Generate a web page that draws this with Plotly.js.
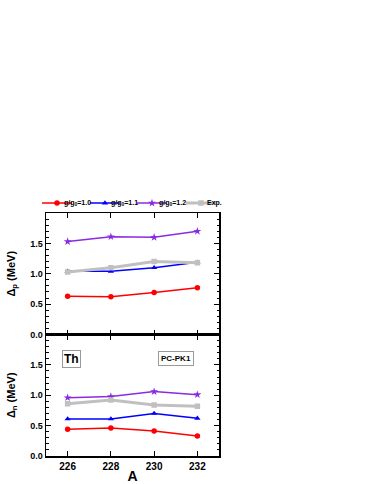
<!DOCTYPE html>
<html>
<head>
<meta charset="utf-8">
<script src="https://cdn.plot.ly/plotly-3.0.1.min.js"></script>
<style>
  html, body { margin: 0; padding: 0; background: #fff; }
  #plot { width: 374px; height: 484px; }
</style>
</head>
<body>
<div id="plot"></div>
<script>
/* mass numbers */
var massA = [226, 228, 230, 232];
var xTicks = [226, 228, 230, 232];
var yTicks = [0, 0.5, 1.0, 1.5];

/* proton pairing gaps (top panel) */
var dp_10 = [0.63, 0.62, 0.69, 0.77];
var dp_11 = [1.04, 1.04, 1.10, 1.19];
var dp_12 = [1.53, 1.61, 1.60, 1.70];
var dp_exp = [1.03, 1.10, 1.20, 1.18];

/* neutron pairing gaps (bottom panel) */
var dn_10 = [0.44, 0.46, 0.41, 0.33];
var dn_11 = [0.61, 0.61, 0.70, 0.62];
var dn_12 = [0.96, 0.98, 1.06, 1.01];
var dn_exp = [0.86, 0.92, 0.84, 0.82];

var names = ['g/g<sub>0</sub>=1.0', 'g/g<sub>0</sub>=1.1', 'g/g<sub>0</sub>=1.2', 'Exp.'];
var colors = ['#ff0000', '#0000ff', '#8a2be2', '#c0c0c0'];
var symbols = ['circle', 'triangle-up', 'star', 'square'];
var legendIds = ['legend', 'legend2', 'legend3', 'legend4'];

// legend samples are tight in the original, so the symbol comes from the
// plotly legend and the label is an annotation right after it
var legendX = [-0.052, 0.225, 0.497, 0.780];
var labelX = [0.092, 0.364, 0.642, 0.919];

function makeTrace(yv, i, xa, ya, show) {
  return {
    x: massA,
    y: yv,
    xaxis: xa,
    yaxis: ya,
    name: '',
    showlegend: show,
    legend: legendIds[i],
    legendgroup: 'g' + i,
    mode: 'lines+markers',
    type: 'scatter',
    line: { color: colors[i], width: i == 3 ? 3 : 1.5 },
    marker: { symbol: symbols[i], color: colors[i], size: i == 2 ? 6 : 5.5 }
  };
}

var topSets = [dp_10, dp_11, dp_12, dp_exp];
var botSets = [dn_10, dn_11, dn_12, dn_exp];
var data = [];
for (var i = 0; i < 4; i++) data.push(makeTrace(topSets[i], i, 'x2', 'y2', true));
for (var i = 0; i < 4; i++) data.push(makeTrace(botSets[i], i, 'x', 'y', false));

var boldFont = { family: 'Liberation Sans, Arial, sans-serif', color: '#000', weight: 'bold' };

function yAxis(dom, anchor, title) {
  return {
    domain: dom,
    anchor: anchor,
    range: [0, 2.0],
    tickvals: yTicks,
    ticktext: ['0.0', '0.5', '1.0', '1.5'],
    ticks: 'inside',
    ticklen: 5,
    tickwidth: 1,
    tickcolor: '#000',
    showline: true,
    linecolor: '#000',
    linewidth: 1.5,
    mirror: 'allticks',
    showgrid: false,
    zeroline: false,
    minor: { dtick: 0.1, tick0: 0, ticks: 'inside', ticklen: 2.5, tickcolor: '#000', showgrid: false },
    tickfont: Object.assign({ size: 9 }, boldFont),
    title: { text: title, font: Object.assign({ size: 11 }, boldFont), standoff: 12 }
  };
}

function xAxis(anchor, labels) {
  return {
    anchor: anchor,
    range: [225, 233],
    tickvals: xTicks,
    ticks: 'inside',
    ticklen: 5,
    tickwidth: 1,
    tickcolor: '#000',
    showline: true,
    linecolor: '#000',
    linewidth: 1.5,
    mirror: 'allticks',
    showgrid: false,
    zeroline: false,
    showticklabels: labels,
    tickfont: Object.assign({ size: 10 }, boldFont),
    title: labels ? { text: 'A', font: Object.assign({ size: 14 }, boldFont), standoff: 2 } : { text: '' }
  };
}

function legendAt(xpos) {
  return {
    orientation: 'h',
    x: xpos,
    xanchor: 'left',
    y: 1.041,
    yanchor: 'middle',
    font: Object.assign({ size: 7 }, boldFont),
    itemwidth: 30,
    bgcolor: 'rgba(0,0,0,0)',
    borderwidth: 0
  };
}

var annotations = [
  {
    xref: 'paper', yref: 'paper', x: 0.15, y: 0.398,
    xanchor: 'center', yanchor: 'middle',
    text: 'Th', showarrow: false,
    font: Object.assign({ size: 12 }, boldFont),
    bordercolor: '#999', borderwidth: 1, borderpad: 1
  },
  {
    xref: 'paper', yref: 'paper', x: 0.753, y: 0.402,
    xanchor: 'center', yanchor: 'middle',
    text: 'PC-PK1', showarrow: false,
    font: Object.assign({ size: 8 }, boldFont),
    bordercolor: '#999', borderwidth: 1, borderpad: 2
  }
];
for (var i = 0; i < 4; i++) {
  annotations.push({
    xref: 'paper', yref: 'paper', x: labelX[i], y: 1.04,
    xanchor: 'left', yanchor: 'middle',
    text: names[i], showarrow: false,
    font: Object.assign({ size: 7 }, boldFont)
  });
}

var layout = {
  width: 374,
  height: 484,
  margin: { l: 46, r: 155, t: 213, b: 28 },
  paper_bgcolor: '#fff',
  plot_bgcolor: '#fff',
  font: boldFont,
  showlegend: true,
  legend: legendAt(legendX[0]),
  legend2: legendAt(legendX[1]),
  legend3: legendAt(legendX[2]),
  legend4: legendAt(legendX[3]),
  xaxis: xAxis('y', true),
  xaxis2: xAxis('y2', false),
  yaxis: yAxis([0, 0.5], 'x', '\u0394<sub>n</sub> (MeV)'),
  yaxis2: yAxis([0.5, 1], 'x2', '\u0394<sub>p</sub> (MeV)'),
  annotations: annotations
};

Plotly.newPlot('plot', data, layout, { displayModeBar: false, staticPlot: true });
</script>
</body>
</html>
